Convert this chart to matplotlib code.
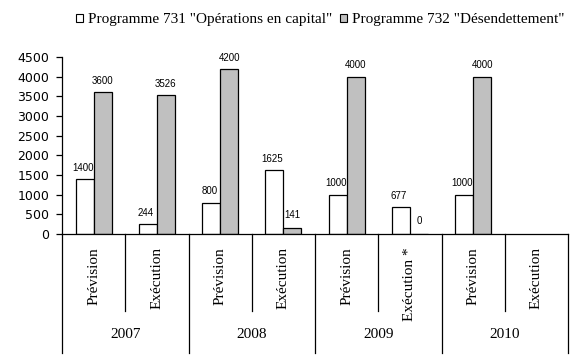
"""
Programmes 731 / 732 : prévision vs exécution, 2007-2010
"""

import matplotlib.pyplot as plt
import matplotlib.transforms as mtransforms
from matplotlib.patches import Patch
import numpy as np

# Data
YEARS = ['2007', '2008', '2009', '2010']
CATEGORIES = ['Prévision', 'Exécution', 'Prévision', 'Exécution',
              'Prévision', 'Exécution *', 'Prévision', 'Exécution']
PROG_731 = [1400, 244, 800, 1625, 1000, 677, 1000, None]
PROG_732 = [3600, 3526, 4200, 141, 4000, 0, 4000, None]
LABEL_731 = 'Programme 731 "Opérations en capital"'
LABEL_732 = 'Programme 732 "Désendettement"'
Y_TICKS = [0, 500, 1000, 1500, 2000, 2500, 3000, 3500, 4000, 4500]

SERIF = 'Liberation Serif'
SANS = 'DejaVu Sans'


def main():
    fig = plt.figure(figsize=(5.83, 3.64), dpi=100)
    # axes box in pixels: left 62, right 568, zero line 234, top 57
    ax = fig.add_axes([62 / 583, 1 - 234 / 364, 506 / 583, 177 / 364])

    x = np.arange(len(CATEGORIES))
    width = 0.285
    v731 = [np.nan if v is None else v for v in PROG_731]
    v732 = [np.nan if v is None else v for v in PROG_732]

    ax.bar(x - width / 2, v731, width, color='white', edgecolor='black', linewidth=0.9)
    ax.bar(x + width / 2, v732, width, color='#c0c0c0', edgecolor='black', linewidth=0.9)

    # value labels
    for i, v in enumerate(PROG_731):
        if v is not None:
            ax.annotate(str(v), (x[i] - width / 2 - 0.03, v), textcoords='offset points',
                        xytext=(0, 4.5), ha='center', va='bottom', fontsize=7,
                        family='Liberation Sans')
    for i, v in enumerate(PROG_732):
        if v is not None:
            ax.annotate(str(v), (x[i] + width / 2, v), textcoords='offset points',
                        xytext=(0, 4.5 if v > 500 else 6), ha='center', va='bottom',
                        fontsize=7, family='Liberation Sans')

    ax.set_xlim(-0.5, len(CATEGORIES) - 0.5)
    ax.set_ylim(0, 4500)
    ax.set_yticks(Y_TICKS)
    ax.set_yticklabels([str(t) for t in Y_TICKS], fontsize=9, family=SANS)
    ax.tick_params(axis='y', direction='out', length=4.3, width=0.9, pad=5)
    ax.set_xticks([])
    for side in ('top', 'right'):
        ax.spines[side].set_visible(False)
    ax.spines['left'].set_linewidth(0.9)
    ax.spines['bottom'].set_linewidth(0.9)

    # category axis table below the plot
    trans = mtransforms.blended_transform_factory(ax.transData, ax.transAxes)
    inner_low = -77 / 177
    outer_low = -119 / 177
    for b in np.arange(-0.5, len(CATEGORIES), 1.0):
        low = outer_low if int(b + 0.5) % 2 == 0 else inner_low
        ax.plot([b, b], [0, low], color='black', lw=0.9, transform=trans, clip_on=False)

    for i, cat in enumerate(CATEGORIES):
        ax.text(x[i], -0.073, cat, rotation=90, ha='center', va='top',
                fontsize=11, family=SERIF, transform=trans)
    for j, year in enumerate(YEARS):
        ax.text(2 * j + 0.5, -0.565, year, ha='center', va='center',
                fontsize=11, family=SERIF, transform=trans)

    # legend
    handles = [Patch(facecolor='white', edgecolor='black', linewidth=0.8),
               Patch(facecolor='#c0c0c0', edgecolor='black', linewidth=0.8)]
    fig.legend(handles, [LABEL_731, LABEL_732], loc='center', ncol=2,
               bbox_to_anchor=(320 / 583, 1 - 20 / 364), frameon=False,
               prop={'family': SERIF, 'size': 11}, handlelength=0.5, handleheight=0.5,
               handletextpad=0.3, columnspacing=0.5, borderaxespad=0)

    fig.savefig('out.png', dpi=100)


if __name__ == "__main__":
    main()
